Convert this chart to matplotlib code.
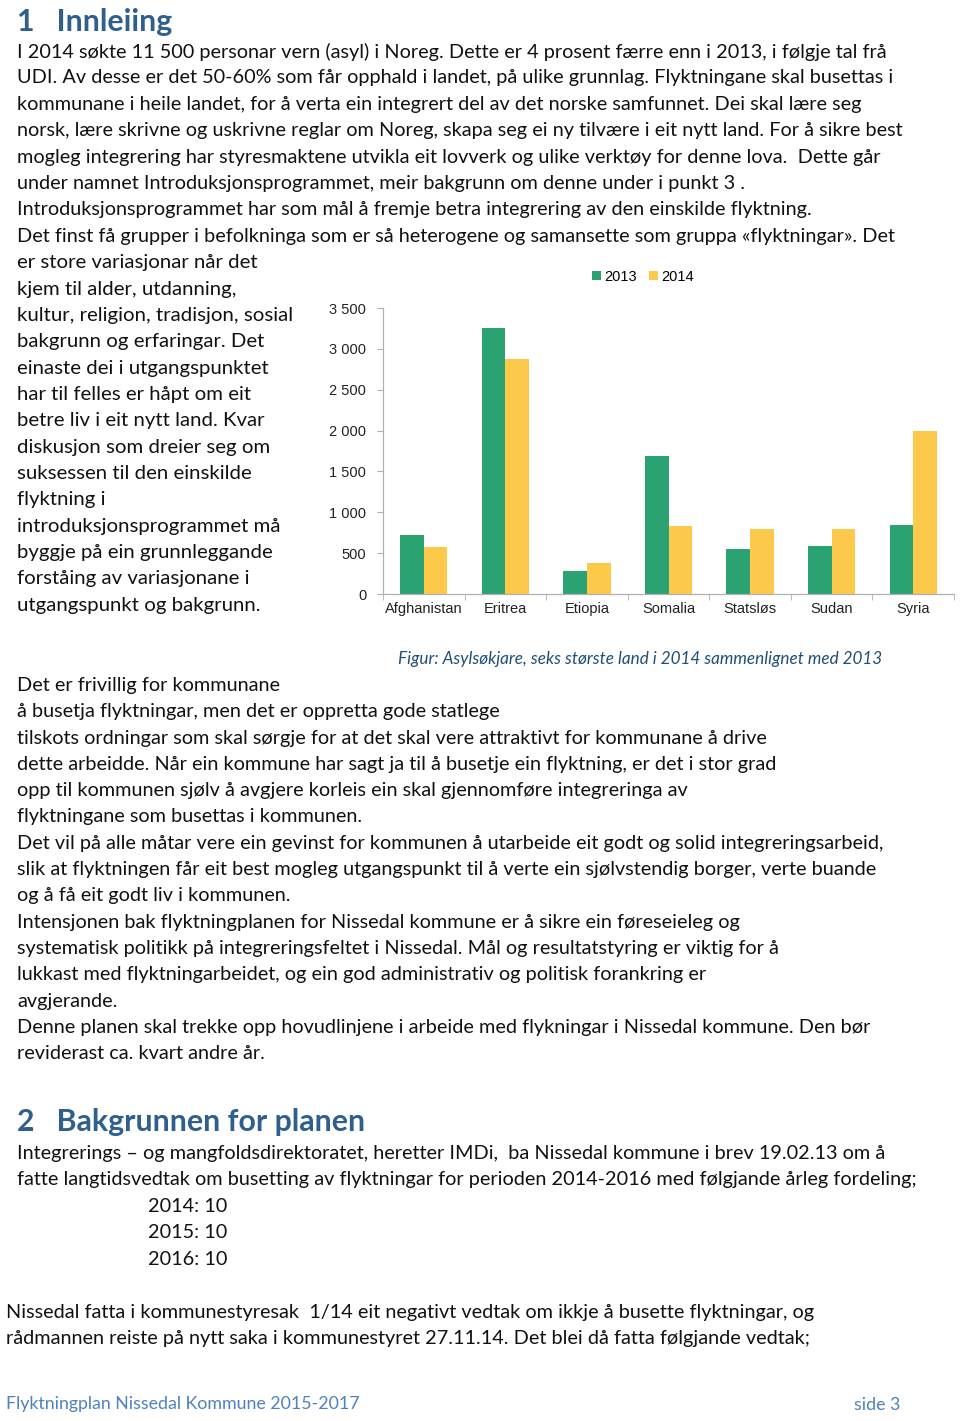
import matplotlib
matplotlib.use("Agg")
import matplotlib.pyplot as plt
import numpy as np

# ---------------- data ----------------
countries = ["Afghanistan", "Eritrea", "Etiopia", "Somalia", "Statsløs", "Sudan", "Syria"]
values_2013 = [723, 3250, 286, 1686, 547, 592, 849]
values_2014 = [572, 2880, 376, 829, 796, 796, 1989]
series_labels = ["2013", "2014"]
y_ticks = [0, 500, 1000, 1500, 2000, 2500, 3000, 3500]
y_tick_labels = ["0", "500", "1 000", "1 500", "2 000", "2 500", "3 000", "3 500"]

heading1 = "1   Innleiing"
para1 = [
    "I 2014 søkte 11 500 personar vern (asyl) i Noreg. Dette er 4 prosent færre enn i 2013, i følgje tal frå",
    "UDI. Av desse er det 50-60% som får opphald i landet, på ulike grunnlag. Flyktningane skal busettas i",
    "kommunane i heile landet, for å verta ein integrert del av det norske samfunnet. Dei skal lære seg",
    "norsk, lære skrivne og uskrivne reglar om Noreg, skapa seg ei ny tilvære i eit nytt land. For å sikre best",
    "mogleg integrering har styresmaktene utvikla eit lovverk og ulike verktøy for denne lova.  Dette går",
    "under namnet Introduksjonsprogrammet, meir bakgrunn om denne under i punkt 3 .",
    "Introduksjonsprogrammet har som mål å fremje betra integrering av den einskilde flyktning.",
    "Det finst få grupper i befolkninga som er så heterogene og samansette som gruppa «flyktningar». Det",
]
para_side = [
    "er store variasjonar når det",
    "kjem til alder, utdanning,",
    "kultur, religion, tradisjon, sosial",
    "bakgrunn og erfaringar. Det",
    "einaste dei i utgangspunktet",
    "har til felles er håpt om eit",
    "betre liv i eit nytt land. Kvar",
    "diskusjon som dreier seg om",
    "suksessen til den einskilde",
    "flyktning i",
    "introduksjonsprogrammet må",
    "byggje på ein grunnleggande",
    "forståing av variasjonane i",
    "utgangspunkt og bakgrunn.",
]
caption = "Figur: Asylsøkjare, seks største land i 2014 sammenlignet med 2013"
para2 = [
    "Det er frivillig for kommunane",
    "å busetja flyktningar, men det er oppretta gode statlege",
    "tilskots ordningar som skal sørgje for at det skal vere attraktivt for kommunane å drive",
    "dette arbeidde. Når ein kommune har sagt ja til å busetje ein flyktning, er det i stor grad",
    "opp til kommunen sjølv å avgjere korleis ein skal gjennomføre integreringa av",
    "flyktningane som busettas i kommunen.",
    "Det vil på alle måtar vere ein gevinst for kommunen å utarbeide eit godt og solid integreringsarbeid,",
    "slik at flyktningen får eit best mogleg utgangspunkt til å verte ein sjølvstendig borger, verte buande",
    "og å få eit godt liv i kommunen.",
    "Intensjonen bak flyktningplanen for Nissedal kommune er å sikre ein føreseieleg og",
    "systematisk politikk på integreringsfeltet i Nissedal. Mål og resultatstyring er viktig for å",
    "lukkast med flyktningarbeidet, og ein god administrativ og politisk forankring er",
    "avgjerande.",
    "Denne planen skal trekke opp hovudlinjene i arbeide med flykningar i Nissedal kommune. Den bør",
    "reviderast ca. kvart andre år.",
]
heading2 = "2   Bakgrunnen for planen"
para3 = [
    "Integrerings – og mangfoldsdirektoratet, heretter IMDi,  ba Nissedal kommune i brev 19.02.13 om å",
    "fatte langtidsvedtak om busetting av flyktningar for perioden 2014-2016 med følgjande årleg fordeling;",
]
years_list = ["2014: 10", "2015: 10", "2016: 10"]
para4 = [
    "Nissedal fatta i kommunestyresak  1/14 eit negativt vedtak om ikkje å busette flyktningar, og",
    "rådmannen reiste på nytt saka i kommunestyret 27.11.14. Det blei då fatta følgjande vedtak;",
]
footer_left = "Flyktningplan Nissedal Kommune 2015-2017"
footer_right = "side 3"

# ---------------- layout ----------------
W, H = 960, 1421
fig = plt.figure(figsize=(W / 100, H / 100), dpi=100)
fig.patch.set_facecolor("white")

BODY = ["Lato", "DejaVu Sans"]
BODY_SIZE = 14.3
SIDE_SIZE = 14.7
HEAD_BLUE = "#2f5f8f"
CAP_BLUE = "#1f4e79"
FOOT_BLUE = "#4f81bd"


def put(x, y, s, **kw):
    d = dict(fontsize=BODY_SIZE, family=BODY, color="#111111", va="center_baseline", ha="left")
    d.update(kw)
    fig.text(x / W, 1 - y / H, s, **d)


put(17, 19, heading1, fontsize=21.8, weight="bold", color=HEAD_BLUE)
y = 50
for s in para1:
    put(17, y, s)
    y += 26.4
for s in para_side:
    put(17, y, s, fontsize=SIDE_SIZE)
    y += 26.35

put(882, 657, caption, ha="right", style="italic", color=CAP_BLUE, fontsize=12.3)

y = 684
for s in para2:
    put(17, y, s)
    y += 26.3

put(17, 1120, heading2, fontsize=21.8, weight="bold", color=HEAD_BLUE)
y = 1152
for s in para3:
    put(17, y, s)
    y += 26.4
for s in years_list:
    put(148, y, s)
    y += 26.4
y = 1311
for s in para4:
    put(6, y, s)
    y += 26.4

put(6, 1403, footer_left, color=FOOT_BLUE, fontsize=12.8)
put(900, 1403, footer_right, color=FOOT_BLUE, ha="right", fontsize=12.8)

# ---------------- chart ----------------
ax_l, ax_r, ax_b, ax_t = 383, 954, 594, 308
ax = fig.add_axes([ax_l / W, 1 - ax_b / H, (ax_r - ax_l) / W, (ax_b - ax_t) / H])
x = np.arange(len(countries))
bw = 0.29
green = "#2ba272"
yellow = "#fdc94a"
ax.bar(x - bw / 2, values_2013, bw, color=green, label=series_labels[0])
ax.bar(x + bw / 2, values_2014, bw, color=yellow, label=series_labels[1])
ax.set_xlim(-0.5, len(countries) - 0.5)
ax.set_ylim(0, 3500)
for sp in ["top", "right"]:
    ax.spines[sp].set_visible(False)
for sp in ["left", "bottom"]:
    ax.spines[sp].set_color("#b0b0b0")
    ax.spines[sp].set_linewidth(0.9)
TICKF = ["Liberation Sans", "DejaVu Sans"]
ax.set_yticks(y_ticks)
ax.set_yticklabels(y_tick_labels, family=TICKF, fontsize=10.5, color="#222222")
ax.set_xticks(x)
ax.set_xticklabels(countries, family=TICKF, fontsize=10.5, color="#222222")
ax.tick_params(axis="x", length=0, pad=6)
ax.set_xticks(np.arange(len(countries) + 1) - 0.5, minor=True)
ax.tick_params(axis="x", which="minor", length=4, color="#b0b0b0", direction="out")
ax.tick_params(axis="y", length=4, color="#b0b0b0", direction="out", pad=8)
ax.legend(loc="center", bbox_to_anchor=((643) / W, 1 - 277 / H), bbox_transform=fig.transFigure,
          ncol=2, frameon=False, handlelength=0.6, handleheight=0.6, handletextpad=0.25,
          columnspacing=0.8, prop={"family": TICKF, "size": 10.5})

fig.savefig("out.png", dpi=100, facecolor="white")
